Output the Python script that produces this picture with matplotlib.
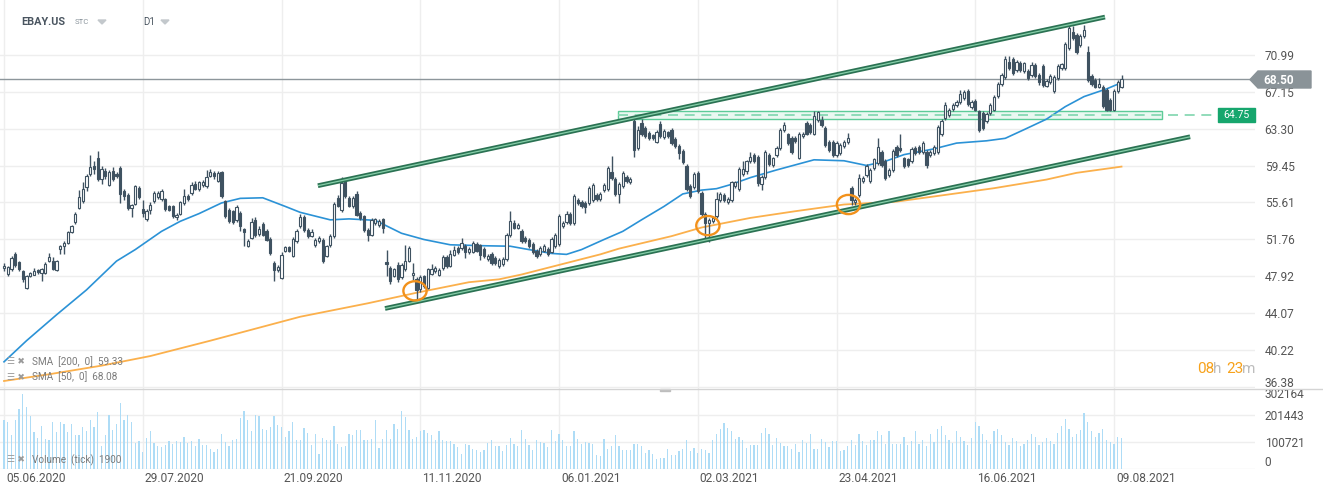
import matplotlib
matplotlib.use("Agg")
import matplotlib.pyplot as plt
from matplotlib.patches import Ellipse, Rectangle, Polygon
import numpy as np

# ---------------- data ----------------
opens = [48.8,48.2,48.7,50.29,49.4,48.45,46.72,47.93,48.1,48.6,48.28,48.28,49.5,49.5,48.62,50.71,51.05,51.4,52.5,53.55,
55.05,55.74,57.2,58.58,59.38,60.25,58.06,58.86,57.4,58.9,58.62,59.24,56.78,56.43,55.0,55.46,57.13,54.94,53.93,54.87,
55.74,56.19,55.98,55.98,55.25,55.25,54.1,54.45,55.56,56.33,56.6,57.58,57.02,57.44,57.3,58.41,58.69,57.82,58.79,55.74,
54.87,54.7,53.76,54.52,52.86,51.12,51.92,53.76,52.37,53.41,52.6,51.85,49.32,48.55,47.76,50.57,50.98,50.08,51.57,53.2,
54.1,52.72,52.16,51.23,51.61,51.68,50.01,51.23,52.09,56.08,54.8,57.92,56.08,55.22,56.5,54.52,54.17,52.79,52.27,
53.51,53.3,53.86,49.4,48.83,47.96,49.1,47.8,48.66,49.52,48.0,47.6,46.6,47.9,46.7,48.2,48.5,48.0,48.8,49.9,
49.0,50.1,50.9,50.9,51.1,50.4,50.5,51.3,51.2,50.8,49.7,50.2,49.8,49.0,49.2,49.7,52.2,53.5,53.0,52.6,51.9,
51.75,51.3,50.6,50.2,50.6,50.8,50.5,51.1,51.3,53.2,53.6,54.4,53.5,55.9,55.7,55.6,55.6,55.9,56.4,56.0,
56.9,57.0,58.8,58.1,56.5,57.3,58.3,57.7,64.1,61.3,63.9,63.4,62.9,62.6,61.9,63.8,62.4,62.95,63.2,62.2,
61.5,61.0,59.4,57.3,57.2,58.7,56.6,54.4,53.5,53.7,54.2,55.9,56.4,55.7,55.9,57.3,57.0,58.6,
58.85,59.9,60.6,60.4,57.5,58.3,60.6,59.5,60.6,61.3,63.2,62.7,62.3,62.3,60.3,62.5,63.9,63.7,62.8,64.2,
64.2,63.4,61.9,61.9,60.6,60.8,61.5,61.9,57.1,55.7,56.4,57.8,58.5,57.8,59.2,59.7,60.9,59.9,58.5,59.0,
61.4,61.3,60.2,60.1,59.9,61.3,61.4,60.9,60.9,60.6,60.8,60.9,62.7,64.4,64.7,65.4,65.8,66.1,66.5,67.2,
65.6,66.2,65.1,64.9,64.1,64.9,65.3,66.7,68.0,68.7,70.3,70.6,69.4,70.2,69.3,69.3,68.9,69.9,68.9,69.8,
67.8,68.2,67.2,68.6,69.6,69.6,71.7,73.4,73.1,72.0,73.0,71.3,68.8,68.4,67.7,67.7,67.3,66.3,65.3,67.2,67.7]
highs = [49.3,49.0,50.0,50.4,49.5,48.6,48.1,48.4,48.8,48.7,48.8,49.4,50.36,49.9,49.6,51.2,51.6,52.6,53.3,54.6,
56.9,57.7,58.6,60.52,59.9,61.01,59.4,59.2,59.0,59.3,58.8,59.45,57.0,56.6,55.5,57.4,57.3,55.9,54.9,55.63,
56.8,56.8,57.0,56.1,55.4,55.4,54.5,55.8,57.02,56.5,57.7,57.8,57.9,58.0,58.96,59.1,58.9,58.9,58.9,55.9,
55.0,54.8,55.3,54.7,53.0,51.8,54.0,54.1,53.2,53.6,52.8,52.0,49.5,49.1,50.4,51.1,51.1,52.0,52.8,54.4,
54.3,52.9,52.8,51.9,52.1,51.9,51.2,52.3,55.7,56.4,58.3,58.1,56.3,56.3,56.8,54.7,54.3,52.9,54.0,
54.0,53.9,54.0,50.7,49.0,48.8,49.4,49.3,51.15,51.1,49.3,47.8,48.0,48.1,48.8,49.2,49.0,48.8,50.1,50.1,
50.7,51.1,51.1,51.9,51.3,51.0,51.6,51.5,51.3,51.0,50.2,50.4,50.0,49.8,49.9,52.4,54.7,53.8,53.5,52.8,52.1,
51.9,51.5,50.8,51.1,51.3,51.0,52.0,52.4,54.4,53.7,54.7,54.6,56.5,56.1,55.9,55.8,57.3,57.6,56.6,56.7,
57.6,59.4,60.5,58.3,57.7,58.9,58.5,58.3,64.5,63.6,64.3,63.6,63.1,62.8,63.2,64.1,63.3,63.1,63.4,62.4,
61.7,61.2,59.6,57.5,58.8,58.9,56.8,54.6,54.0,54.2,56.7,56.7,56.6,56.2,57.9,57.9,59.3,59.9,
60.0,60.9,60.8,60.6,58.5,61.1,60.8,60.4,61.5,63.4,64.0,62.9,62.5,62.5,63.0,63.0,64.1,63.9,65.1,65.2,
64.6,63.6,62.1,62.1,62.0,61.8,62.1,62.9,57.3,56.1,58.6,58.4,59.6,59.2,60.3,62.3,61.1,60.1,59.2,61.2,
61.6,62.7,60.4,60.3,61.4,61.5,61.6,62.0,61.1,61.1,61.6,63.7,64.3,66.1,65.5,66.0,66.3,67.3,67.3,67.4,
66.3,66.4,65.3,65.1,65.0,66.0,66.8,68.2,69.1,70.9,70.9,70.8,70.5,70.4,70.3,69.5,70.3,70.1,69.1,70.0,
68.5,69.0,68.9,70.0,70.2,72.3,74.1,74.0,73.3,73.2,74.1,71.9,69.0,68.6,68.6,67.9,67.5,66.5,67.4,68.4,68.9]
lows = [48.5,47.93,48.5,48.9,48.5,47.3,46.6,47.8,48.0,48.2,47.4,48.2,49.4,48.6,48.5,50.2,50.2,51.3,52.4,53.4,
54.9,55.6,56.8,58.4,58.6,57.9,57.55,58.1,57.3,57.9,58.2,55.56,55.9,54.8,54.1,55.3,56.0,54.1,53.7,54.45,
55.6,56.0,55.8,54.7,54.7,54.0,53.83,54.3,55.4,55.8,56.4,56.9,56.8,57.2,57.1,58.3,58.1,57.7,56.1,54.0,
53.5,53.4,53.6,52.6,51.05,51.0,51.8,52.0,52.1,52.1,51.6,50.1,47.45,48.4,47.6,50.4,50.4,49.9,51.4,53.0,
52.5,51.9,52.0,51.0,51.4,49.3,49.9,51.0,51.9,55.1,54.6,56.1,55.1,55.0,54.2,53.8,52.5,51.57,52.1,
53.3,53.1,52.47,47.9,47.1,47.8,47.3,47.6,48.5,49.4,47.5,45.6,46.3,46.7,46.6,48.0,48.3,47.9,48.6,48.8,
48.9,50.0,50.2,50.7,49.8,50.2,50.3,50.4,49.6,49.8,49.5,49.1,49.1,48.8,49.0,49.5,52.0,52.8,52.8,51.4,51.4,
50.9,50.2,49.8,50.0,50.4,50.0,50.3,50.9,51.1,53.0,53.4,53.3,53.3,55.4,55.0,54.5,55.4,55.7,55.8,55.8,
56.7,56.8,58.0,56.3,55.6,57.1,57.6,57.5,60.4,61.1,62.5,62.3,62.1,62.1,61.8,62.3,62.2,62.3,61.6,61.3,
60.1,59.6,56.8,56.1,57.0,56.6,54.2,51.9,51.5,53.5,54.0,55.7,55.7,55.5,55.7,57.1,56.8,58.4,
58.6,59.7,59.7,57.3,56.9,58.1,59.4,59.3,60.4,61.1,63.0,61.6,60.7,61.8,60.1,62.3,62.6,62.8,62.6,64.0,
63.5,61.4,60.9,60.4,60.4,60.6,61.3,61.7,55.4,55.3,56.2,57.6,58.3,57.6,59.0,59.5,59.3,58.0,58.3,58.8,
60.4,60.9,59.2,59.3,59.7,60.6,60.7,60.7,59.2,60.4,60.6,60.7,62.5,64.2,64.5,65.2,65.6,65.9,66.3,65.7,
65.4,65.1,63.0,63.2,63.9,64.7,65.1,66.5,67.8,68.5,69.4,68.9,69.2,69.2,69.1,68.4,68.7,68.6,67.9,67.7,
67.6,68.0,67.0,68.4,69.4,69.4,71.5,72.6,71.1,71.8,72.8,68.2,67.8,67.5,67.5,65.5,65.1,65.1,65.1,67.0,67.5]
closes = [49.0,48.87,49.84,49.14,48.7,47.65,47.99,48.28,48.5,48.4,48.69,49.15,49.95,48.7,49.5,51.05,51.4,52.5,53.13,54.45,
56.19,57.02,58.41,59.31,59.1,58.06,59.1,58.34,58.8,58.06,58.34,56.5,56.26,55.05,55.3,57.3,56.19,54.52,54.77,55.39,
56.6,56.6,56.78,54.94,54.87,54.24,54.35,55.63,56.33,55.98,57.47,57.02,57.72,57.79,58.23,58.79,58.34,58.69,56.26,54.17,
53.66,53.55,55.15,53.2,52.51,51.61,53.55,52.2,52.86,52.27,51.75,50.36,48.55,48.9,50.15,50.98,50.6,51.82,52.61,54.1,
52.72,52.09,52.51,51.75,51.92,49.5,51.05,52.09,55.49,55.29,57.65,56.33,55.29,56.08,54.35,54.0,52.72,52.27,53.83,
53.86,53.7,52.9,49.2,47.45,48.66,47.6,49.1,49.52,50.84,48.3,46.5,47.8,46.9,48.7,48.7,48.8,48.6,49.9,49.0,
50.2,50.7,50.4,51.4,50.4,50.8,51.4,50.6,50.1,50.0,50.0,49.3,49.3,49.6,49.7,52.2,53.7,53.0,53.3,51.6,51.6,
51.1,50.4,50.0,50.9,51.1,50.2,51.8,52.2,54.2,53.5,54.4,53.5,56.3,55.6,55.2,55.1,57.1,57.4,56.0,56.5,
57.4,59.2,58.2,56.5,57.5,58.7,57.8,58.1,61.1,63.2,62.7,62.5,62.3,62.3,63.0,62.5,63.1,62.5,61.8,61.5,
60.8,59.8,57.0,56.3,58.6,56.8,54.4,53.5,53.8,53.95,56.0,56.5,55.9,56.0,57.7,57.7,59.1,59.1,
59.89,60.4,59.9,57.6,58.3,60.9,59.6,60.2,61.3,63.2,63.7,61.8,60.9,62.0,62.8,62.8,62.8,63.0,64.6,65.0,
63.7,61.6,61.1,60.6,61.8,61.6,61.9,62.3,55.9,55.9,58.2,58.2,59.4,59.0,60.1,61.4,59.5,58.2,59.0,61.0,
60.6,61.1,59.4,59.5,61.2,60.8,60.9,61.8,59.5,60.9,61.4,63.5,64.1,65.8,65.3,65.8,66.1,66.9,67.1,65.9,
66.1,65.3,63.2,63.4,64.8,65.8,66.6,68.0,68.9,70.6,69.6,69.1,70.3,69.4,70.1,68.6,69.9,68.8,68.2,67.9,
68.3,68.8,68.7,69.8,70.0,72.1,73.8,72.8,71.3,73.0,73.6,68.4,68.0,67.7,68.0,65.7,65.3,65.3,67.2,68.2,68.5]

volumes = [181,174,125,184,224,278,233,196,137,116,162,112,110,174,139,177,168,139,168,125,
127,158,143,181,158,212,87,125,203,146,168,246,181,203,177,96,104,65,116,141,
96,87,81,91,106,94,106,100,118,96,106,84,112,91,91,74,65,74,131,100,
87,110,112,191,218,181,143,203,196,150,146,158,196,165,158,121,141,174,110,109,
154,136,88,129,55,117,107,107,162,92,82,85,129,125,147,144,109,109,113,
184,80,113,146,113,168,150,217,195,146,113,119,140,146,134,125,107,140,107,103,
103,92,82,55,95,88,76,72,64,70,97,107,85,85,68,88,115,92,85,144,
111,88,70,107,101,97,82,147,103,131,107,85,85,140,113,92,101,98,92,52,
48,111,74,85,125,85,70,70,70,92,92,86,60,70,55,37,42,42,76,52,
52,68,76,109,66,80,60,74,70,58,109,129,150,172,152,140,113,119,109,
79,88,91,88,134,152,129,88,115,98,85,85,76,95,64,107,97,129,74,74,
111,101,82,103,103,66,70,85,107,88,129,103,88,107,107,140,125,92,140,92,
92,95,120,88,105,140,92,110,85,130,100,150,160,125,110,98,140,120,105,88,
115,175,160,130,110,95,140,150,125,100,90,115,105,85,95,110,130,120,88,100,
115,105,95,135,160,185,150,120,130,145,210,175,140,120,135,150,110,100,95,120,115]
volumes = [v * 1000 for v in volumes]

sma50_idx = [0,6,14,22,30,35,42,47,52,58,63,69,75,79,87,92,99,106,112,119,128,135,140,146,150,154,160,165,170,176,
             181,186,190,194,199,206,216,224,230,235,240,248,254,262,267,272,278,283,288,294,298]
sma50_val = [39.0,41.2,43.9,46.5,49.5,50.7,52.6,53.65,54.45,55.56,56.04,56.1,55.2,54.58,53.8,53.9,53.75,52.4,51.75,51.2,
             51.1,51.05,50.7,50.3,50.2,50.7,51.75,52.6,53.8,55.2,56.5,56.9,57.05,57.5,58.2,59.0,60.06,59.96,59.47,59.9,
             60.6,61.2,61.8,62.04,62.3,63.2,64.3,65.6,66.65,67.45,68.1]
sma200_idx = [0,12,26,39,55,79,97,110,124,132,138,151,159,164,178,186,199,211,224,238,251,264,278,286,298]
sma200_val = [37.0,37.7,38.6,39.6,41.2,43.7,45.1,46.2,47.3,47.6,48.1,49.4,50.2,50.8,52.1,53.0,54.0,54.7,55.4,55.7,
              56.4,57.1,58.0,58.7,59.35]

upper_channel = ([83.7, 293.6], [57.36, 74.94])
lower_channel = ([101.6, 316.3], [44.56, 62.46])
zone_x = (163.7, 308.8)
zone_y = (64.35, 65.15)
zone_level = 64.75
last_price = 68.50
circles = [(109.6, 46.4), (187.7, 53.2), (225.2, 55.4)]

price_ticks = [36.38, 40.22, 44.07, 47.92, 51.76, 55.61, 59.45, 63.30, 67.15, 70.99]
vol_ticks = [0, 100721, 201443, 302164]
date_idx = [0, 37, 74, 111, 148, 185, 222, 259, 296]
date_labels = ["05.06.2020", "29.07.2020", "21.09.2020", "11.11.2020", "06.01.2021",
               "02.03.2021", "23.04.2021", "16.06.2021", "09.08.2021"]

# ---------------- figure ----------------
W, H = 1323, 493
plt.rcParams['font.family'] = ['Roboto', 'DejaVu Sans']
fig = plt.figure(figsize=(W / 100, H / 100), dpi=100)
fig.patch.set_facecolor('white')

def fx(x):
    return x / W

def fy(y):
    return 1 - y / H

right_px = 1255
ax = fig.add_axes([0, fy(388), fx(right_px), 388 / H])
axv = fig.add_axes([0, fy(469), fx(right_px), 81 / H])

n = len(closes)
idx = np.arange(n)
xlim = (-1.07, 333.6)
GRID = '#eeeeee'
CANDLE = '#3f5261'
TXT = '#555555'

for a in (ax, axv):
    a.set_xlim(*xlim)
    for s in a.spines.values():
        s.set_visible(False)
    a.set_facecolor('none')
    for d in date_idx:
        a.axvline(d, color=GRID, lw=1.0, zorder=0)

ax.set_ylim(36.27, 76.72)
for t in price_ticks:
    ax.axhline(t, color=GRID, lw=1.0, zorder=0)

# candles
o = np.array(opens); c = np.array(closes); h = np.array(highs); l = np.array(lows)
ax.vlines(idx, l, h, color=CANDLE, lw=1.0, zorder=3)
bottom = np.minimum(o, c)
height = np.maximum(np.abs(c - o), 0.08)
up = c >= o
ax.bar(idx[up], height[up], bottom=bottom[up], width=0.62, facecolor='white',
       edgecolor=CANDLE, linewidth=0.8, zorder=4)
ax.bar(idx[~up], height[~up], bottom=bottom[~up], width=0.62, facecolor=CANDLE,
       edgecolor=CANDLE, linewidth=0.8, zorder=4)

# moving averages
ax.plot(sma200_idx, sma200_val, color='#fbb04c', lw=1.3, zorder=2)
ax.plot(sma50_idx, sma50_val, color='#2b92d6', lw=1.2, zorder=2)

# last price line
ax.axhline(last_price, color='#8d969b', lw=1.0, zorder=2)

# zone
ax.add_patch(Rectangle((zone_x[0], zone_y[0]), zone_x[1] - zone_x[0], zone_y[1] - zone_y[0],
                       facecolor='#eaf8f1', edgecolor='#5dcb98', lw=1.0, zorder=1.5))
ax.plot([zone_x[0], 322], [zone_level, zone_level], color='#7fd6ae', lw=1.2,
        dashes=(6, 4), zorder=2.5)

# channel lines
for xs, ys in (upper_channel, lower_channel):
    ax.plot(xs, ys, color='#2b7253', lw=3.4, solid_capstyle='butt', zorder=5)
    ax.plot(xs, ys, color='#86cfa9', lw=0.9, solid_capstyle='butt', zorder=5.1)

# orange circles
for cx, cy in circles:
    ax.add_patch(Ellipse((cx, cy), 6.2, 2.0, fill=False, edgecolor='#f2911b', lw=1.7, zorder=6))

# price axis labels
ax.yaxis.tick_right()
ax.set_yticks(price_ticks)
ax.set_yticklabels([f"{t:.2f}" for t in price_ticks])
ax.tick_params(axis='y', length=0, pad=7, labelsize=8.6, labelcolor=TXT)
ax.get_yticklabels()[0].set_va('baseline')
ax.set_xticks([])

# volume
axv.set_ylim(0, 302164)
for t in vol_ticks[1:3]:
    axv.axhline(t, color=GRID, lw=1.0, zorder=0)
axv.axhline(0, color=GRID, lw=1.0, zorder=0)
axv.bar(idx, volumes, width=0.32, color='#aedcf6', zorder=2)
axv.yaxis.tick_right()
axv.set_yticks(vol_ticks)
axv.set_yticklabels([str(v) for v in vol_ticks])
axv.tick_params(axis='y', length=0, pad=7, labelsize=8.6, labelcolor=TXT)
vl = axv.get_yticklabels()
vl[0].set_va('bottom')
vl[-1].set_va('top')
axv.set_xticks([d + 0.5 for d in date_idx])
axv.set_xticklabels(date_labels, ha='left')
axv.tick_params(axis='x', length=0, pad=2, labelsize=8.6, labelcolor=TXT)

# separator between panels
fig.add_artist(plt.Line2D([0, 1], [fy(389), fy(389)], color='#d4d4d4', lw=1.0))
fig.add_artist(Rectangle((fx(660), fy(391)), fx(10), 2.5 / H, color='#bdbdbd'))

# header
fig.text(fx(21), fy(22), "EBAY.US", fontsize=7.8, fontweight='bold', color='#4a5560', va='center')
fig.text(fx(75), fy(22), "STC", fontsize=5.6, color='#8a949c', va='center')
fig.add_artist(Polygon([(fx(98), fy(20)), (fx(106), fy(20)), (fx(102), fy(24))], closed=True, color='#c3c8cc'))
fig.text(fx(143), fy(22), "D1", fontsize=7.0, color='#4a5560', va='center')
fig.add_artist(Polygon([(fx(161), fy(20)), (fx(169), fy(20)), (fx(165), fy(24))], closed=True, color='#c3c8cc'))

# legends
LEG = '#7b7b7b'
fig.text(fx(7), fy(362), "☰ ✖", fontsize=6.5, color='#9a9a9a', va='center')
fig.text(fx(32), fy(362), "SMA  [200,  0]  59.33", fontsize=7.2, color=LEG, va='center')
fig.text(fx(7), fy(377), "☰ ✖", fontsize=6.5, color='#9a9a9a', va='center')
fig.text(fx(32), fy(377), "SMA  [50,  0]  68.08", fontsize=7.2, color=LEG, va='center')
fig.text(fx(7), fy(460), "☰ ✖", fontsize=6.5, color='#9a9a9a', va='center')
fig.text(fx(32), fy(460), "Volume  (tick)  1900", fontsize=7.2, color=LEG, va='center')

# timer
ORANGE_T = '#f7a21b'
fig.text(fx(1197), fy(369), "08", fontsize=11, color=ORANGE_T, va='center')
fig.text(fx(1213), fy(369), "h", fontsize=11, color='#bdbdbd', va='center')
fig.text(fx(1226), fy(369), "23", fontsize=11, color=ORANGE_T, va='center')
fig.text(fx(1242), fy(369), "m", fontsize=11, color='#bdbdbd', va='center')

# price tags
fig.add_artist(Polygon([(fx(1250), fy(79.6)), (fx(1258), fy(71)), (fx(1311), fy(71)),
                        (fx(1311), fy(88)), (fx(1258), fy(88))], closed=True, color='#8a9398', zorder=5))
fig.text(fx(1263), fy(80), "68.50", fontsize=8.6, color='white', va='center', fontweight='bold', zorder=6)
fig.add_artist(Rectangle((fx(1218), fy(122)), fx(37), 14 / H, color='#16a66d', zorder=5))
fig.text(fx(1236.5), fy(115), "64.75", fontsize=7.6, color='white', va='center', ha='center', zorder=6)

fig.savefig("out.png", dpi=100, facecolor='white')
